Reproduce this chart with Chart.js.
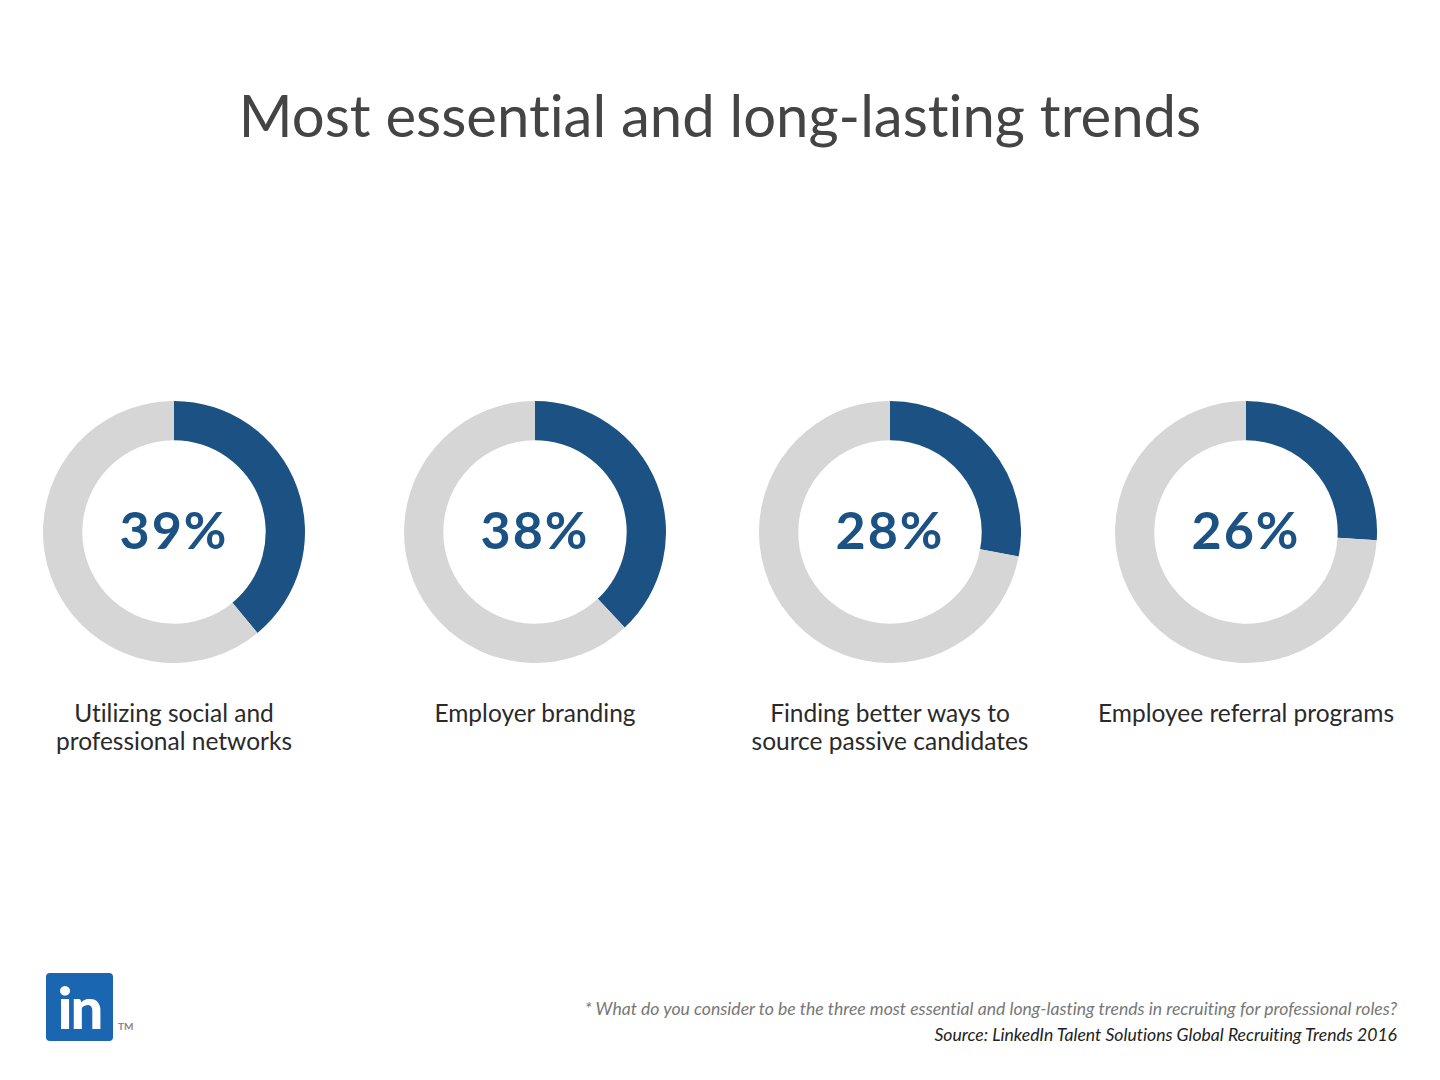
<!DOCTYPE html>
<html>
<head>
<meta charset="utf-8">
<script src="https://cdn.jsdelivr.net/npm/chart.js@4/dist/chart.umd.min.js"></script>
<style>
	body { margin: 0; background: #fff; font-family: Lato, 'Open Sans', sans-serif; font-variant-ligatures: none; }
	#page { position: relative; width: 1440px; height: 1080px; overflow: hidden; }
	#title { position: absolute; left: 0; top: 80px; width: 1440px; text-align: center; font-size: 58px; color: #444; }
	.donut { position: absolute; width: 262px; height: 262px; }
	.label { position: absolute; width: 380px; text-align: center; font-size: 24.5px; line-height: 28px; color: #2a2a2a; }
	#note { position: absolute; right: 43px; top: 998px; font-size: 17.6px; font-style: italic; color: #777; }
	#source { position: absolute; right: 43px; top: 1024px; font-size: 17.6px; font-style: italic; color: #222; }
	#logo { position: absolute; left: 46px; top: 973px; width: 67px; height: 68px; background: #1b66b0; border-radius: 4px;
		color: #fff; font-weight: 900; font-size: 58px; line-height: 68px; text-align: center; letter-spacing: -2px; font-family: Lato, sans-serif; }
	#tm { position: absolute; left: 118px; top: 1020px; font-size: 10px; color: #888; font-weight: bold; }
</style>
</head>
<body>
<div id="page">
	<div id="title">Most essential and long-lasting trends</div>
	<div id="charts"></div>
	<div id="note">* What do you consider to be the three most essential and long-lasting trends in recruiting for professional roles?</div>
	<div id="source">Source: LinkedIn Talent Solutions Global Recruiting Trends 2016</div>
	<div id="logo">in</div>
	<div id="tm">TM</div>
</div>
<script>
// Share of respondents per trend (%).
const trends = [
	['Utilizing social and', 'professional networks'],
	['Employer branding'],
	['Finding better ways to', 'source passive candidates'],
	['Employee referral programs']
];
const shares = [39, 38, 28, 26];

const BLUE = '#1b5283';
const GREY = '#d6d6d6';

// Donut centres on the page.
const centerX = [174, 535, 890, 1246];
const centerY = 532;

// Draws the percentage in the middle of the ring.
const centerText = {
	id: 'centerText',
	afterDraw(chart) {
		const meta = chart.getDatasetMeta(0).data[0];
		const ctx = chart.ctx;
		ctx.save();
		ctx.font = 'bold 52px Lato, sans-serif';
		ctx.letterSpacing = '2px';
		ctx.fillStyle = BLUE;
		ctx.textAlign = 'center';
		ctx.textBaseline = 'middle';
		ctx.fillText(`${chart.data.datasets[0].data[0]}%`, meta.x, meta.y);
		ctx.restore();
	}
};

const host = document.getElementById('charts');

shares.forEach((value, i) => {
	const box = document.createElement('div');
	box.className = 'donut';
	box.style.left = `${centerX[i] - 131}px`;
	box.style.top = `${centerY - 131}px`;
	const canvas = document.createElement('canvas');
	canvas.width = 262;
	canvas.height = 262;
	box.appendChild(canvas);
	host.appendChild(box);

	new Chart(canvas.getContext('2d'), {
		type: 'doughnut',
		data: {
			labels: ['Yes', 'Other'],
			datasets: [{
				data: [value, 100 - value],
				backgroundColor: [BLUE, GREY],
				borderWidth: 0,
				cutout: '70%',
			}]
		},
		options: {
			responsive: false,
			animation: false,
			layout: { padding: 0 },
			plugins: {
				legend: { display: false },
				tooltip: { enabled: false }
			}
		},
		plugins: [centerText]
	});

	const label = document.createElement('div');
	label.className = 'label';
	label.style.left = `${centerX[i] - 190}px`;
	label.style.top = '699px';
	label.innerHTML = trends[i].join('<br>');
	host.appendChild(label);
});
</script>
</body>
</html>
